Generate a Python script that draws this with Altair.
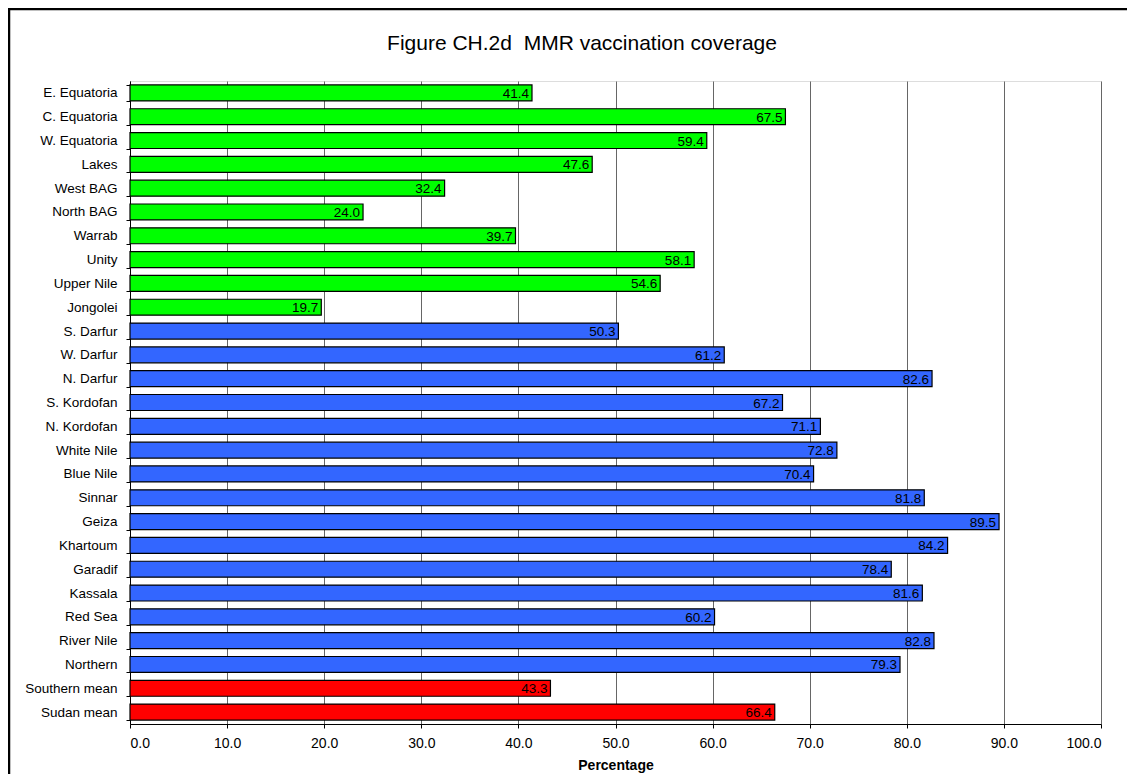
import altair as alt
import pandas as pd

regions = ["E. Equatoria", "C. Equatoria", "W. Equatoria", "Lakes", "West BAG", "North BAG",
           "Warrab", "Unity", "Upper Nile", "Jongolei", "S. Darfur", "W. Darfur", "N. Darfur",
           "S. Kordofan", "N. Kordofan", "White Nile", "Blue Nile", "Sinnar", "Geiza", "Khartoum",
           "Garadif", "Kassala", "Red Sea", "River Nile", "Northern", "Southern mean", "Sudan mean"]
values = [41.4, 67.5, 59.4, 47.6, 32.4, 24.0, 39.7, 58.1, 54.6, 19.7, 50.3, 61.2, 82.6,
          67.2, 71.1, 72.8, 70.4, 81.8, 89.5, 84.2, 78.4, 81.6, 60.2, 82.8, 79.3, 43.3, 66.4]
groups = ["South"] * 10 + ["North"] * 15 + ["Mean"] * 2
title_text = ["Figure CH.2d\u00a0 MMR vaccination coverage"]

df = pd.DataFrame({"region": regions, "value": values, "group": groups})

W, H = 971, 643
FONT = "Liberation Sans"

y_enc = alt.Y("region:N", sort=regions,
              scale=alt.Scale(paddingInner=0.33, paddingOuter=0.165),
              axis=alt.Axis(title=None, tickBand="extent", tickSize=4, tickColor="black",
                            domainColor="black", labelPadding=9, labelFontSize=13.5,
                            labelColor="black", labelFont=FONT, grid=False))
x_scale = alt.Scale(domain=[0, 100], nice=False)

bars = alt.Chart(df).mark_bar(stroke="black", strokeWidth=1.2).encode(
    x=alt.X("value:Q", scale=x_scale,
            axis=alt.Axis(title="Percentage", values=list(range(0, 101, 10)), format=".1f",
                          tickSize=4, tickColor="black", domainColor="black",
                          gridColor="#666666", gridOpacity=1, labelFontSize=14,
                          labelColor="black", labelPadding=8, labelFont=FONT,
                          titleFont=FONT, titleFontSize=14, titleFontWeight="bold",
                          titleColor="black", titlePadding=8)),
    y=y_enc,
    color=alt.Color("group:N", scale=alt.Scale(domain=["South", "North", "Mean"],
                                               range=["#00FF00", "#3366FF", "#FF0000"]),
                    legend=None),
)

labels = alt.Chart(df).mark_text(align="right", baseline="middle", dx=-3, dy=1, fontSize=13.5,
                                 font=FONT, color="black").encode(
    x=alt.X("value:Q", scale=x_scale),
    y=alt.Y("region:N", sort=regions),
    text=alt.Text("value:Q", format=".1f"),
)

title = alt.Chart(pd.DataFrame({"t": title_text})).mark_text(
    align="center", baseline="alphabetic", fontSize=21, font=FONT, color="black",
    clip=False).encode(x=alt.value(452), y=alt.value(-31), text="t:N")

border = alt.Chart(pd.DataFrame({"a": [0]})).mark_rect(
    fill=None, stroke="black", strokeWidth=2.5, clip=False).encode(
    x=alt.value(-121), x2=alt.value(1100), y=alt.value(-72), y2=alt.value(800))

chart = alt.layer(bars, labels, title, border).properties(
    width=W, height=H,
    autosize=alt.AutoSizeParams(type="none"),
    padding={"left": 122, "top": 73, "right": 26, "bottom": 50},
).configure_view(stroke="#888888", strokeWidth=1.5).configure(background="white")

chart.save("out.html", embed_options={"renderer": "svg", "actions": False})
